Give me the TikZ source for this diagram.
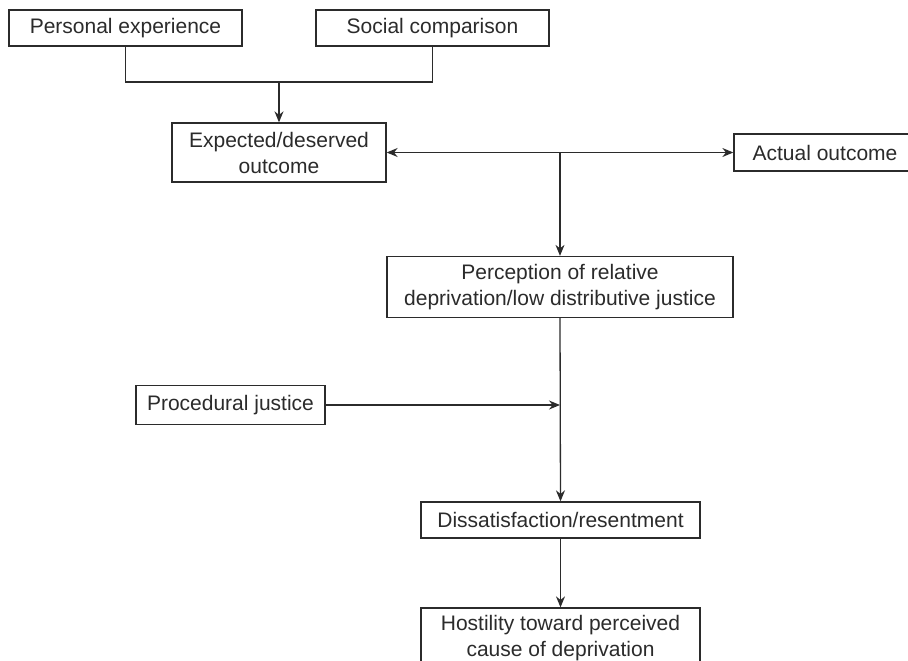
\documentclass[tikz,border=0pt]{standalone}
\usepackage{fontspec}
\setmainfont{Liberation Sans}
\usetikzlibrary{arrows.meta}
\definecolor{ink}{HTML}{2B2B2B}
\begin{document}
\begin{tikzpicture}[x=1pt,y=-1pt,
  box/.style={draw=ink,line width=1.3pt,fill=white,inner sep=0pt,align=center,
    font=\fontsize{21}{26}\selectfont,text=ink},
  link/.style={draw=ink,line width=1.3pt},
  arr/.style={link,-{Stealth[length=11pt,width=9pt]}},
  darr/.style={link,{Stealth[length=11pt,width=9pt]}-{Stealth[length=11pt,width=9pt]}}]
\useasboundingbox (0,0) rectangle (908,661);

% boxes
\node[box,minimum width=233pt,minimum height=36pt] (pe) at (125.5,28) {Personal experience};
\node[box,minimum width=233pt,minimum height=36pt] (sc) at (432.5,28) {Social comparison};
\node[box,minimum width=214pt,minimum height=59pt] (ex) at (279,152.5) {Expected/deserved\\outcome};
\node[box,minimum width=182pt,minimum height=37pt] (ac) at (825,152.5) {Actual outcome};
\node[box,minimum width=346pt,minimum height=61pt] (pr) at (560,287) {Perception of relative\\deprivation/low distributive justice};
\node[box,minimum width=189pt,minimum height=39pt] (pj) at (230.5,405) {Procedural justice};
\node[box,minimum width=279pt,minimum height=36pt] (ds) at (560.5,520) {Dissatisfaction/resentment};
\node[box,minimum width=279pt,minimum height=60pt] (ho) at (560.5,638) {Hostility toward perceived\\cause of deprivation};

% junction points
\coordinate (m1) at (279,82);
\coordinate (m2) at (560,152.5);
\coordinate (m3) at (560,405);

% connectors
\draw[link] (pe.south) |- (m1) -| (sc.south);
\draw[arr] (m1) -- (ex.north);
\draw[darr] (ex.east) -- (ac.west);
\draw[arr] (m2) -- (pr.north);
\draw[arr] (pj.east) -- (m3);
\draw[arr] (pr.south) -- (ds.north);
\draw[arr] (ds.south) -- (ho.north);
\end{tikzpicture}
\end{document}
